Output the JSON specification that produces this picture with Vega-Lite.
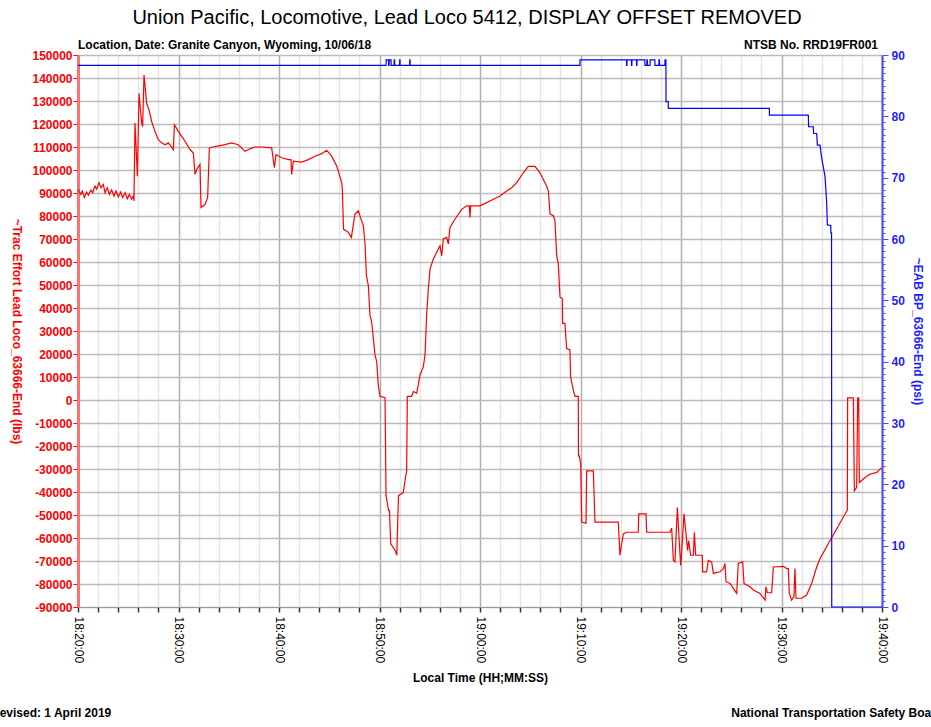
{
  "$schema": "https://vega.github.io/schema/vega-lite/v6.json",
  "width": 804,
  "height": 552,
  "autosize": {"type": "none"},
  "padding": {"left": 78, "top": 55, "right": 49, "bottom": 120},
  "background": "white",
  "config": {"font": "Liberation Sans", "view": {"stroke": "#999999", "strokeWidth": 1}},
  "title": {"text": "Union Pacific, Locomotive, Lead Loco 5412, DISPLAY OFFSET REMOVED", "fontSize": 20, "fontWeight": "normal", "font": "Liberation Sans", "color": "#000000", "anchor": "middle", "frame": "group", "dx": -13, "offset": 11},
  "datasets": {
    "trac": [
      {"t": 0, "lbs": 91600}, {"t": 0.27, "lbs": 89400}, {"t": 0.43, "lbs": 90900}, {"t": 0.63, "lbs": 88000}, {"t": 0.86, "lbs": 90400},
      {"t": 1.03, "lbs": 89000}, {"t": 1.29, "lbs": 91300}, {"t": 1.46, "lbs": 90100}, {"t": 1.69, "lbs": 93000}, {"t": 1.86, "lbs": 91600},
      {"t": 2.09, "lbs": 94500}, {"t": 2.29, "lbs": 92300}, {"t": 2.52, "lbs": 93700}, {"t": 2.69, "lbs": 90100}, {"t": 2.92, "lbs": 92300},
      {"t": 3.12, "lbs": 89400}, {"t": 3.35, "lbs": 91300}, {"t": 3.58, "lbs": 88700}, {"t": 3.78, "lbs": 90900}, {"t": 4.01, "lbs": 88400},
      {"t": 4.24, "lbs": 90400}, {"t": 4.44, "lbs": 88000}, {"t": 4.68, "lbs": 90100}, {"t": 4.91, "lbs": 87500}, {"t": 5.11, "lbs": 89400},
      {"t": 5.34, "lbs": 87300}, {"t": 5.51, "lbs": 88700}, {"t": 5.57, "lbs": 86500}, {"t": 5.67, "lbs": 120400}, {"t": 5.91, "lbs": 97300},
      {"t": 6.07, "lbs": 133400}, {"t": 6.34, "lbs": 120400}, {"t": 6.43, "lbs": 118900}, {"t": 6.57, "lbs": 141300}, {"t": 6.83, "lbs": 129000},
      {"t": 7.07, "lbs": 126100}, {"t": 7.33, "lbs": 121100}, {"t": 7.66, "lbs": 116800}, {"t": 7.99, "lbs": 113200}, {"t": 8.33, "lbs": 111800},
      {"t": 8.66, "lbs": 111000}, {"t": 8.99, "lbs": 111800}, {"t": 9.32, "lbs": 110000}, {"t": 9.49, "lbs": 108900}, {"t": 9.59, "lbs": 119700},
      {"t": 9.98, "lbs": 116800}, {"t": 10.31, "lbs": 114600}, {"t": 10.65, "lbs": 112500}, {"t": 11.14, "lbs": 108900}, {"t": 11.48, "lbs": 107400},
      {"t": 11.64, "lbs": 98100}, {"t": 11.81, "lbs": 100200}, {"t": 12.14, "lbs": 102400}, {"t": 12.24, "lbs": 83700}, {"t": 12.64, "lbs": 85100},
      {"t": 12.9, "lbs": 88000}, {"t": 13.07, "lbs": 109600}, {"t": 13.63, "lbs": 110200}, {"t": 14.63, "lbs": 111000}, {"t": 15.29, "lbs": 111800},
      {"t": 15.95, "lbs": 111000}, {"t": 16.62, "lbs": 108100}, {"t": 17.11, "lbs": 109200}, {"t": 17.61, "lbs": 110000}, {"t": 18.28, "lbs": 110000},
      {"t": 19.27, "lbs": 109600}, {"t": 19.54, "lbs": 101000}, {"t": 19.7, "lbs": 106700}, {"t": 20.27, "lbs": 105300}, {"t": 20.93, "lbs": 104500},
      {"t": 21.19, "lbs": 104500}, {"t": 21.26, "lbs": 98100}, {"t": 21.43, "lbs": 103800}, {"t": 22.26, "lbs": 103400}, {"t": 22.92, "lbs": 104500},
      {"t": 23.58, "lbs": 106000}, {"t": 24.25, "lbs": 107100}, {"t": 24.74, "lbs": 108600}, {"t": 25.24, "lbs": 106000}, {"t": 25.74, "lbs": 101700},
      {"t": 25.9, "lbs": 99500}, {"t": 26.24, "lbs": 94500}, {"t": 26.3, "lbs": 92000}, {"t": 26.42, "lbs": 74300}, {"t": 26.9, "lbs": 72900},
      {"t": 27.2, "lbs": 70700}, {"t": 27.56, "lbs": 80800}, {"t": 27.9, "lbs": 82200}, {"t": 28.1, "lbs": 79400}, {"t": 28.4, "lbs": 75700},
      {"t": 28.56, "lbs": 67800}, {"t": 28.7, "lbs": 54000}, {"t": 28.89, "lbs": 49800}, {"t": 29.05, "lbs": 36900}, {"t": 29.22, "lbs": 34000},
      {"t": 29.39, "lbs": 26800}, {"t": 29.55, "lbs": 19600}, {"t": 29.72, "lbs": 16700}, {"t": 29.88, "lbs": 6600}, {"t": 30.05, "lbs": 1600},
      {"t": 30.55, "lbs": 1000}, {"t": 30.65, "lbs": -41600}, {"t": 30.9, "lbs": -48000}, {"t": 30.99, "lbs": -48000}, {"t": 31.12, "lbs": -62500},
      {"t": 31.56, "lbs": -65400}, {"t": 31.72, "lbs": -67500}, {"t": 31.89, "lbs": -41600}, {"t": 32.37, "lbs": -40200}, {"t": 32.54, "lbs": -35100},
      {"t": 32.7, "lbs": -30800}, {"t": 32.77, "lbs": 1600}, {"t": 33.2, "lbs": 1600}, {"t": 33.37, "lbs": 3700}, {"t": 33.7, "lbs": 3000},
      {"t": 33.86, "lbs": 6600}, {"t": 34.03, "lbs": 10900}, {"t": 34.36, "lbs": 14500}, {"t": 34.53, "lbs": 19600}, {"t": 34.69, "lbs": 36900},
      {"t": 34.86, "lbs": 48400}, {"t": 35.03, "lbs": 57000}, {"t": 35.36, "lbs": 61300}, {"t": 35.69, "lbs": 64200}, {"t": 36.02, "lbs": 67000},
      {"t": 36.19, "lbs": 62700}, {"t": 36.35, "lbs": 70000}, {"t": 36.68, "lbs": 70700}, {"t": 36.85, "lbs": 67800}, {"t": 37.01, "lbs": 75000},
      {"t": 37.51, "lbs": 78600}, {"t": 38.18, "lbs": 82900}, {"t": 38.67, "lbs": 84400}, {"t": 38.94, "lbs": 84400}, {"t": 39.0, "lbs": 79400},
      {"t": 39.07, "lbs": 84400}, {"t": 40.0, "lbs": 84400}, {"t": 40.66, "lbs": 85800}, {"t": 41.33, "lbs": 87300}, {"t": 41.99, "lbs": 88700},
      {"t": 42.65, "lbs": 90900}, {"t": 43.15, "lbs": 92300}, {"t": 43.65, "lbs": 94500}, {"t": 44.31, "lbs": 98800}, {"t": 44.81, "lbs": 101600},
      {"t": 45.47, "lbs": 101600}, {"t": 45.97, "lbs": 98800}, {"t": 46.3, "lbs": 95900}, {"t": 46.63, "lbs": 93000}, {"t": 46.8, "lbs": 90900},
      {"t": 46.97, "lbs": 80800}, {"t": 47.3, "lbs": 80100}, {"t": 47.46, "lbs": 77900}, {"t": 47.63, "lbs": 62700}, {"t": 47.79, "lbs": 59200},
      {"t": 47.96, "lbs": 44800}, {"t": 48.19, "lbs": 44100}, {"t": 48.22, "lbs": 33300}, {"t": 48.45, "lbs": 33300}, {"t": 48.62, "lbs": 22500},
      {"t": 48.95, "lbs": 21800}, {"t": 49.01, "lbs": 10200}, {"t": 49.28, "lbs": 4400}, {"t": 49.45, "lbs": 1600}, {"t": 49.78, "lbs": 1600},
      {"t": 49.8, "lbs": -24300}, {"t": 49.88, "lbs": -24300}, {"t": 50.02, "lbs": -27900}, {"t": 50.12, "lbs": -53100}, {"t": 50.55, "lbs": -53600},
      {"t": 50.61, "lbs": -30800}, {"t": 51.28, "lbs": -30800}, {"t": 51.44, "lbs": -53100}, {"t": 53.76, "lbs": -53100}, {"t": 53.93, "lbs": -67500},
      {"t": 54.1, "lbs": -62500}, {"t": 54.26, "lbs": -58200}, {"t": 54.59, "lbs": -57500}, {"t": 55.75, "lbs": -57500}, {"t": 55.79, "lbs": -49500},
      {"t": 56.52, "lbs": -49500}, {"t": 56.58, "lbs": -57500}, {"t": 58.91, "lbs": -57500}, {"t": 59.07, "lbs": -55700}, {"t": 59.24, "lbs": -69700},
      {"t": 59.4, "lbs": -70400}, {"t": 59.64, "lbs": -46700}, {"t": 59.8, "lbs": -59600}, {"t": 59.97, "lbs": -71900}, {"t": 60.1, "lbs": -63900},
      {"t": 60.3, "lbs": -49500}, {"t": 60.5, "lbs": -58200}, {"t": 60.66, "lbs": -65400}, {"t": 60.76, "lbs": -61100}, {"t": 60.96, "lbs": -67500},
      {"t": 61.23, "lbs": -67500}, {"t": 61.33, "lbs": -57500}, {"t": 61.46, "lbs": -67500}, {"t": 62.12, "lbs": -67500}, {"t": 62.15, "lbs": -74700},
      {"t": 62.55, "lbs": -74700}, {"t": 62.72, "lbs": -69700}, {"t": 63.05, "lbs": -70400}, {"t": 63.22, "lbs": -75400}, {"t": 63.88, "lbs": -74700},
      {"t": 64.21, "lbs": -73300}, {"t": 64.38, "lbs": -71100}, {"t": 64.48, "lbs": -79000}, {"t": 64.88, "lbs": -79800}, {"t": 65.2, "lbs": -81900},
      {"t": 65.54, "lbs": -84100}, {"t": 65.7, "lbs": -71100}, {"t": 66.14, "lbs": -70400}, {"t": 66.27, "lbs": -79800}, {"t": 66.87, "lbs": -81200},
      {"t": 67.2, "lbs": -82600}, {"t": 67.86, "lbs": -84100}, {"t": 68.36, "lbs": -87000}, {"t": 68.45, "lbs": -81200}, {"t": 68.59, "lbs": -83800},
      {"t": 69.02, "lbs": -83800}, {"t": 69.19, "lbs": -72600}, {"t": 70.19, "lbs": -72300}, {"t": 70.52, "lbs": -73300}, {"t": 70.68, "lbs": -73300},
      {"t": 70.78, "lbs": -84100}, {"t": 71.01, "lbs": -87000}, {"t": 71.24, "lbs": -85500}, {"t": 71.34, "lbs": -73300}, {"t": 71.44, "lbs": -86200},
      {"t": 72.0, "lbs": -86200}, {"t": 72.5, "lbs": -84800}, {"t": 73.0, "lbs": -79800}, {"t": 73.5, "lbs": -72600}, {"t": 73.83, "lbs": -69000},
      {"t": 74.83, "lbs": -61100}, {"t": 75.49, "lbs": -56100}, {"t": 76.42, "lbs": -48800}, {"t": 76.55, "lbs": -48100}, {"t": 76.58, "lbs": 900},
      {"t": 77.15, "lbs": 900}, {"t": 77.25, "lbs": -39500}, {"t": 77.48, "lbs": -38000}, {"t": 77.58, "lbs": 900}, {"t": 77.68, "lbs": 900},
      {"t": 77.74, "lbs": -35900}, {"t": 78.31, "lbs": -33700}, {"t": 78.8, "lbs": -32300}, {"t": 79.47, "lbs": -31500}, {"t": 79.97, "lbs": -29400}
    ],
    "bp": [
      {"t": 0, "psi": 88.3}, {"t": 30.65, "psi": 88.3}, {"t": 30.66, "psi": 89.2}, {"t": 30.9, "psi": 89.2}, {"t": 30.91, "psi": 88.3},
      {"t": 30.96, "psi": 88.3}, {"t": 30.97, "psi": 89.2}, {"t": 31.15, "psi": 89.2}, {"t": 31.16, "psi": 88.3}, {"t": 31.45, "psi": 88.3},
      {"t": 31.46, "psi": 89.2}, {"t": 31.5, "psi": 89.2}, {"t": 31.51, "psi": 88.3}, {"t": 32.0, "psi": 88.3}, {"t": 32.01, "psi": 89.2},
      {"t": 32.04, "psi": 89.2}, {"t": 32.05, "psi": 88.3}, {"t": 33.0, "psi": 88.3}, {"t": 33.01, "psi": 89.2}, {"t": 33.04, "psi": 89.2},
      {"t": 33.05, "psi": 88.3}, {"t": 49.94, "psi": 88.3}, {"t": 49.95, "psi": 89.2}, {"t": 54.58, "psi": 89.2}, {"t": 54.59, "psi": 88.3},
      {"t": 54.62, "psi": 88.3}, {"t": 54.63, "psi": 89.2}, {"t": 55.07, "psi": 89.2}, {"t": 55.08, "psi": 88.3}, {"t": 55.11, "psi": 88.3},
      {"t": 55.12, "psi": 89.2}, {"t": 55.57, "psi": 89.2}, {"t": 55.58, "psi": 88.3}, {"t": 55.61, "psi": 88.3}, {"t": 55.62, "psi": 89.2},
      {"t": 56.4, "psi": 89.2}, {"t": 56.41, "psi": 88.3}, {"t": 56.6, "psi": 88.3}, {"t": 56.61, "psi": 89.2}, {"t": 56.65, "psi": 89.2},
      {"t": 56.66, "psi": 88.3}, {"t": 56.92, "psi": 88.3}, {"t": 56.93, "psi": 89.2}, {"t": 57.4, "psi": 89.2}, {"t": 57.41, "psi": 88.3},
      {"t": 57.8, "psi": 88.3}, {"t": 57.81, "psi": 89.2}, {"t": 57.85, "psi": 89.2}, {"t": 57.86, "psi": 88.3}, {"t": 58.4, "psi": 88.3},
      {"t": 58.41, "psi": 89.2}, {"t": 58.5, "psi": 89.2}, {"t": 58.51, "psi": 82.4}, {"t": 58.73, "psi": 82.4}, {"t": 58.74, "psi": 81.3},
      {"t": 68.79, "psi": 81.3}, {"t": 68.8, "psi": 80.2}, {"t": 72.67, "psi": 80.2}, {"t": 72.7, "psi": 78.3}, {"t": 73.16, "psi": 78.3},
      {"t": 73.2, "psi": 77.2}, {"t": 73.5, "psi": 77.2}, {"t": 73.57, "psi": 75.3}, {"t": 73.83, "psi": 75.3}, {"t": 74.0, "psi": 73.2},
      {"t": 74.33, "psi": 70.2}, {"t": 74.5, "psi": 65.8}, {"t": 74.56, "psi": 62.3}, {"t": 74.9, "psi": 62.2}, {"t": 74.92, "psi": 61.0},
      {"t": 74.98, "psi": 61.0}, {"t": 75.0, "psi": 0}, {"t": 80, "psi": 0}
    ]
  },
  "layer": [
    {
      "layer": [
        {
          "data": {"name": "trac"},
          "mark": {"type": "line", "color": "#ff0000", "strokeWidth": 1.2},
          "encoding": {
            "x": {
              "field": "t", "type": "quantitative",
              "scale": {"domain": [0, 80], "nice": false, "zero": false},
              "axis": {
                "values": [0, 2, 4, 6, 8, 10, 12, 14, 16, 18, 20, 22, 24, 26, 28, 30, 32, 34, 36, 38, 40, 42, 44, 46, 48, 50, 52, 54, 56, 58, 60, 62, 64, 66, 68, 70, 72, 74, 76, 78, 80],
                "tickCount": 1000,
                "labelExpr": "datum.value % 10 === 0 ? floor((datum.value + 1100) / 60) + ':' + format((datum.value + 1100) % 60, '02d') + ':00' : ''",
                "labelAngle": 90, "labelFontSize": 12, "labelColor": "#000000", "labelPadding": 4, "labelOverlap": false, "labelFlush": false,
                "title": "Local Time (HH;MM:SS)", "titleFontSize": 12, "titleFontWeight": "bold", "titleColor": "#000000", "titlePadding": 10,
                "tickSize": 5, "tickColor": "#333333", "tickWidth": 1.5,
                "domainColor": "#999999", "domainWidth": 1,
                "grid": true, "gridWidth": 1.5,
                "gridColor": {"condition": {"test": "datum.value % 10 === 0", "value": "#b0b0b0"}, "value": "#e6e6e6"}
              }
            },
            "y": {
              "field": "lbs", "type": "quantitative",
              "scale": {"domain": [-90000, 150000], "nice": false, "zero": false},
              "axis": {
                "values": [-90000, -80000, -70000, -60000, -50000, -40000, -30000, -20000, -10000, 0, 10000, 20000, 30000, 40000, 50000, 60000, 70000, 80000, 90000, 100000, 110000, 120000, 130000, 140000, 150000],
                "tickCount": 1000,
                "labelExpr": "'' + datum.value",
                "labelColor": "#ff0000", "labelFontSize": 12, "labelFontWeight": "bold", "labelPadding": 1, "labelOverlap": false,
                "title": "~Trac Effort Lead Loco_63666-End (lbs)", "titleColor": "#ff0000", "titleFontSize": 12, "titleFontWeight": "bold", "titleAngle": 90, "titlePadding": 22,
                "tickColor": "#ff0000", "tickSize": 5, "tickWidth": 1,
                "domainColor": "#ff7070", "domainWidth": 3,
                "grid": true, "gridColor": "#bcbcbc", "gridWidth": 1.5
              }
            }
          }
        },
        {
          "data": {"values": [{}]},
          "mark": {"type": "text", "align": "left", "baseline": "alphabetic", "dy": -6, "fontSize": 12, "fontWeight": "bold", "color": "#000000"},
          "encoding": {"x": {"datum": 0, "type": "quantitative"}, "y": {"datum": 150000, "type": "quantitative"}, "text": {"value": "Location, Date: Granite Canyon, Wyoming, 10/06/18"}}
        },
        {
          "data": {"values": [{}]},
          "mark": {"type": "text", "align": "right", "baseline": "alphabetic", "dy": -6, "dx": -4, "fontSize": 12, "fontWeight": "bold", "color": "#000000"},
          "encoding": {"x": {"datum": 80, "type": "quantitative"}, "y": {"datum": 150000, "type": "quantitative"}, "text": {"value": "NTSB No. RRD19FR001"}}
        },
        {
          "data": {"values": [{}]},
          "mark": {"type": "text", "align": "left", "baseline": "alphabetic", "dy": 110, "dx": -87, "fontSize": 12, "fontWeight": "bold", "color": "#000000"},
          "encoding": {"x": {"datum": 0, "type": "quantitative"}, "y": {"datum": -90000, "type": "quantitative"}, "text": {"value": "Revised: 1 April 2019"}}
        },
        {
          "data": {"values": [{}]},
          "mark": {"type": "text", "align": "left", "baseline": "alphabetic", "dy": 110, "fontSize": 12, "fontWeight": "bold", "color": "#000000"},
          "encoding": {"x": {"datum": 65, "type": "quantitative"}, "y": {"datum": -90000, "type": "quantitative"}, "text": {"value": "National Transportation Safety Board"}}
        }
      ]
    },
    {
      "data": {"name": "bp"},
      "mark": {"type": "line", "color": "#0000ff", "strokeWidth": 1.2},
      "encoding": {
        "x": {"field": "t", "type": "quantitative"},
        "y": {
          "field": "psi", "type": "quantitative",
          "scale": {"domain": [0, 90], "nice": false, "zero": false},
          "axis": {
            "orient": "right",
            "values": [0, 1, 2, 3, 4, 5, 6, 7, 8, 9, 10, 11, 12, 13, 14, 15, 16, 17, 18, 19, 20, 21, 22, 23, 24, 25, 26, 27, 28, 29, 30, 31, 32, 33, 34, 35, 36, 37, 38, 39, 40, 41, 42, 43, 44, 45, 46, 47, 48, 49, 50, 51, 52, 53, 54, 55, 56, 57, 58, 59, 60, 61, 62, 63, 64, 65, 66, 67, 68, 69, 70, 71, 72, 73, 74, 75, 76, 77, 78, 79, 80, 81, 82, 83, 84, 85, 86, 87, 88, 89, 90],
            "tickCount": 1000,
            "labelExpr": "datum.value % 10 === 0 ? '' + datum.value : ''",
            "labelColor": "#1f1fff", "labelFontSize": 12, "labelFontWeight": "bold", "labelPadding": 3, "labelOverlap": false,
            "title": "~EAB BP_63666-End (psi)", "titleColor": "#1f1fff", "titleFontSize": 12, "titleFontWeight": "bold", "titleAngle": 90, "titlePadding": 6,
            "tickColor": "#4d4dff", "tickWidth": 1,
            "tickSize": {"condition": {"test": "datum.value % 10 === 0", "value": 6}, "value": 3},
            "domainColor": "#4d4dff", "domainWidth": 2,
            "grid": false
          }
        }
      }
    }
  ],
  "resolve": {"scale": {"y": "independent"}}
}
